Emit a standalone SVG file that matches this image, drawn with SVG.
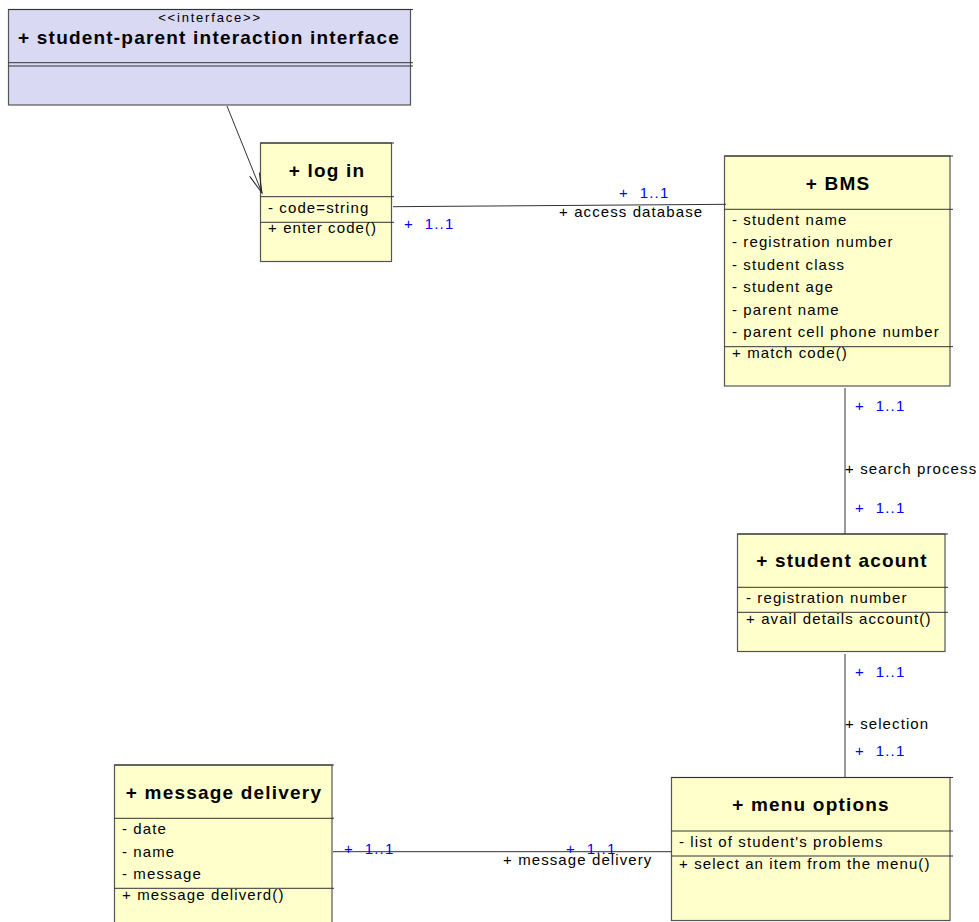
<svg xmlns="http://www.w3.org/2000/svg" width="979" height="922" viewBox="0 0 979 922">
  <style>
    .box { stroke: #555; stroke-width: 1.2; }
    .cls { fill: #FFFFCC; }
    .ifc { fill: #D9D9F4; }
    .sep { stroke: #333; stroke-width: 1; fill: none; }
    .title { font-family: "Liberation Sans", Arial, sans-serif; font-size: 19px; font-weight: bold; letter-spacing: 1.2px; fill: #000; text-anchor: middle; }
    .txt { font-family: "Liberation Sans", Arial, sans-serif; font-size: 15px; letter-spacing: 1.1px; fill: #000; }
    .small { font-family: "Liberation Sans", Arial, sans-serif; font-size: 13px; letter-spacing: 1.8px; fill: #000; text-anchor: middle; }
    .mult { font-family: "Liberation Sans", Arial, sans-serif; font-size: 15px; letter-spacing: 1.2px; fill: #0000FF; }
    .conn { stroke: #333; stroke-width: 1; fill: none; }
  </style>
  <defs>
    <marker id="open-arrow" markerWidth="24" markerHeight="24" refX="20" refY="10" orient="auto" markerUnits="userSpaceOnUse">
      <path d="M0,4.8 L20,10 L0,15.2" fill="none" stroke="#222" stroke-width="1"/>
    </marker>
  </defs>

  <rect width="979" height="922" fill="#FFFFFF"/>

  <!-- interface -->
  <g id="student-parent-interface">
    <rect class="box ifc" x="8.5" y="9.5" width="402" height="95.5"/>
    <line class="sep" x1="8.5" y1="9.5" x2="413" y2="9.5"/>
    <line class="sep" x1="8.5" y1="62.7" x2="413" y2="62.7"/>
    <line class="sep" x1="8.5" y1="66" x2="413" y2="66"/>
    <text class="small" x="210" y="22">&lt;&lt;interface&gt;&gt;</text>
    <text class="title" x="209" y="43.5">+ student-parent interaction interface</text>
  </g>

  <!-- log in -->
  <g id="log-in">
    <rect class="box cls" x="260.5" y="143" width="131" height="118.5"/>
    <line class="sep" x1="260.5" y1="143" x2="394" y2="143"/>
    <line class="sep" x1="260.5" y1="196.7" x2="394" y2="196.7"/>
    <line class="sep" x1="260.5" y1="222.3" x2="394" y2="222.3"/>
    <text class="title" x="327" y="177">+ log in</text>
    <text class="txt" x="268" y="212.5">- code=string</text>
    <text class="txt" x="268" y="233">+ enter code()</text>
  </g>

  <!-- BMS -->
  <g id="bms">
    <rect class="box cls" x="724.5" y="156" width="225.5" height="230"/>
    <line class="sep" x1="724.5" y1="156" x2="953" y2="156"/>
    <line class="sep" x1="724.5" y1="209.3" x2="953" y2="209.3"/>
    <line class="sep" x1="724.5" y1="346.7" x2="953" y2="346.7"/>
    <text class="title" x="838" y="189.5">+ BMS</text>
    <text class="txt" x="732" y="224.5">- student name</text>
    <text class="txt" x="732" y="247">- registration number</text>
    <text class="txt" x="732" y="269.5">- student class</text>
    <text class="txt" x="732" y="291.5">- student age</text>
    <text class="txt" x="732" y="314.5">- parent name</text>
    <text class="txt" x="732" y="336.5">- parent cell phone number</text>
    <text class="txt" x="732" y="358">+ match code()</text>
  </g>

  <!-- student acount -->
  <g id="student-acount">
    <rect class="box cls" x="737.5" y="534" width="207.5" height="117.5"/>
    <line class="sep" x1="737.5" y1="534" x2="948" y2="534"/>
    <line class="sep" x1="737.5" y1="587.3" x2="948" y2="587.3"/>
    <line class="sep" x1="737.5" y1="612.3" x2="948" y2="612.3"/>
    <text class="title" x="842" y="567">+ student acount</text>
    <text class="txt" x="746" y="603">- registration number</text>
    <text class="txt" x="746" y="623.5">+ avail details account()</text>
  </g>

  <!-- menu options -->
  <g id="menu-options">
    <rect class="box cls" x="671.5" y="777.5" width="278.5" height="143"/>
    <line class="sep" x1="671.5" y1="777.5" x2="953" y2="777.5"/>
    <line class="sep" x1="671.5" y1="831" x2="953" y2="831"/>
    <line class="sep" x1="671.5" y1="856" x2="953" y2="856"/>
    <text class="title" x="811" y="811">+ menu options</text>
    <text class="txt" x="679" y="847">- list of student's problems</text>
    <text class="txt" x="679" y="868.5">+ select an item from the menu()</text>
  </g>

  <!-- message delivery -->
  <g id="message-delivery">
    <rect class="box cls" x="114.5" y="765" width="217.5" height="162"/>
    <line class="sep" x1="114.5" y1="765" x2="334" y2="765"/>
    <line class="sep" x1="114.5" y1="818.3" x2="334" y2="818.3"/>
    <line class="sep" x1="114.5" y1="888.3" x2="334" y2="888.3"/>
    <text class="title" x="224" y="798.5">+ message delivery</text>
    <text class="txt" x="122" y="834">- date</text>
    <text class="txt" x="122" y="857">- name</text>
    <text class="txt" x="122" y="878.5">- message</text>
    <text class="txt" x="122" y="900">+ message deliverd()</text>
  </g>

  <!-- connectors -->
  <g id="connectors">
    <!-- realization: log in -> interface -->
    <line class="conn" x1="227" y1="106" x2="262" y2="193" marker-end="url(#open-arrow)"/>

    <!-- log in - BMS -->
    <line class="conn" x1="393" y1="206.7" x2="726" y2="204.3"/>
    <text class="mult" x="619" y="197.5">+&#160; 1..1</text>
    <text class="txt" x="559" y="217">+ access database</text>
    <text class="mult" x="404" y="229">+&#160; 1..1</text>

    <!-- BMS - student acount -->
    <line class="conn" x1="845" y1="388" x2="845" y2="534"/>
    <text class="mult" x="855" y="411">+&#160; 1..1</text>
    <text class="txt" x="845" y="474">+ search process</text>
    <text class="mult" x="855" y="513">+&#160; 1..1</text>

    <!-- student acount - menu options -->
    <line class="conn" x1="845" y1="654" x2="845" y2="777.5"/>
    <text class="mult" x="855" y="677">+&#160; 1..1</text>
    <text class="txt" x="845" y="728.5">+ selection</text>
    <text class="mult" x="855" y="756">+&#160; 1..1</text>

    <!-- menu options - message delivery -->
    <line class="conn" x1="333" y1="851.7" x2="671.5" y2="851.7"/>
    <text class="mult" x="344" y="854">+&#160; 1..1</text>
    <text class="mult" x="566" y="854">+&#160; 1..1</text>
    <text class="txt" x="503" y="864.5">+ message delivery</text>
  </g>
</svg>
